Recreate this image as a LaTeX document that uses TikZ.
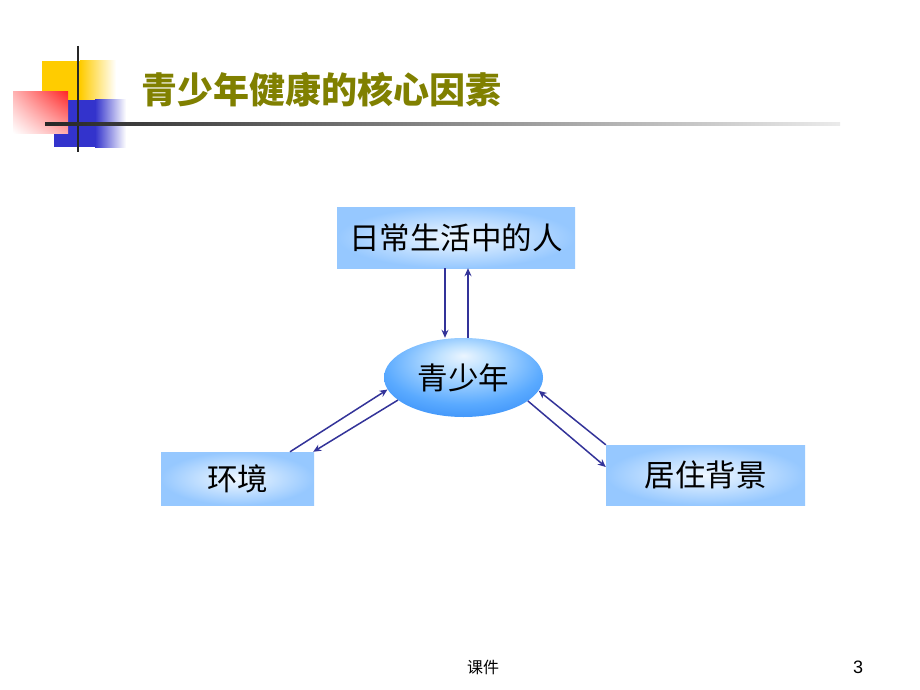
\documentclass[tikz,border=0pt]{standalone}
\usepackage{fontspec}
\setmainfont{Liberation Sans}
\newfontfamily\cjk{Noto Sans CJK SC}
\usetikzlibrary{arrows.meta,shapes.geometric,shadings}
\definecolor{olivet}{RGB}{128,128,0}
\definecolor{navyarr}{RGB}{51,51,153}
\definecolor{boxout}{RGB}{150,200,255}
\definecolor{boxin}{RGB}{240,248,255}
\definecolor{ylw}{RGB}{255,204,0}
\definecolor{blu}{RGB}{51,51,204}
\definecolor{rd}{RGB}{255,40,40}
\pgfdeclareradialshading{ellshade}{\pgfpoint{0bp}{14bp}}{%
  color(0bp)=(rgb,255:red,235;green,245;blue,255);
  color(8bp)=(rgb,255:red,190;green,225;blue,255);
  color(25bp)=(rgb,255:red,90;green,170;blue,255);
  color(40bp)=(rgb,255:red,40;green,130;blue,245);
  color(60bp)=(rgb,255:red,30;green,110;blue,230)}
\tikzset{
  fbox/.style={rectangle, inner sep=0pt, shading=radial, inner color=boxin, outer color=boxout, font=\cjk\fontsize{30.5}{33}\selectfont},
  arr/.style={draw=navyarr, line width=1.5pt, -{Stealth[length=8pt,width=7pt]}},
}
\begin{document}
\begin{tikzpicture}[x=1pt,y=-1pt]
\useasboundingbox[fill=white] (0,0) rectangle (920,690);
% decoration
\fill[ylw] (42,61) rectangle (80,100);
\shade[left color=ylw, right color=white] (80,61) rectangle (116,100);
\fill[blu] (54,100) rectangle (95,147);
\shade[left color=blu, right color=white] (95,100) rectangle (126,147);
\shade[upper right=rd, upper left=rd!35!white, lower right=rd!40!white, lower left=white] (13,92) rectangle (68,133);
\draw[black!85, line width=2.2pt] (78,46) -- (78,152);
\shade[left color=black!85, right color=black!8] (45,123) rectangle (840,125.5);
% title
\node[font=\cjk\bfseries\fontsize{36}{40}\selectfont, text=olivet, anchor=west] (title) at (138,90) {青少年健康的核心因素};
% nodes
\node[fbox, minimum width=238pt, minimum height=61pt] (top) at (456,237.5) {日常生活中的人};
\node[ellipse, inner sep=0pt, minimum width=159pt, minimum height=79pt, shading=ellshade, font=\cjk\fontsize{30.5}{33}\selectfont] (yn) at (463.5,377.5) {青少年};
\node[fbox, minimum width=153pt, minimum height=53pt] (env) at (237.5,478.5) {环境};
\node[fbox, minimum width=199pt, minimum height=60pt] (home) at (705.5,475) {居住背景};
% arrows
\draw[arr] ([xshift=-11pt]top.south) -- ([xshift=-18.5pt]yn.north);
\draw[arr] ([xshift=4.5pt]yn.north) -- ([xshift=12pt]top.south);
\draw[arr] ([xshift=52.5pt]env.north) -- (yn.189);
\draw[arr] (yn.199) -- ([xshift=-1pt]env.north east);
\draw[arr] (yn.-20) -- ([yshift=8pt]home.west);
\draw[arr] (home.north west) -- (yn.-10);
% footer
\node[font=\cjk\fontsize{16}{18}\selectfont] (foot) at (483,667) {课件};
\node[font=\fontsize{18}{20}\selectfont] (pg) at (858,667) {3};
\end{tikzpicture}
\end{document}
